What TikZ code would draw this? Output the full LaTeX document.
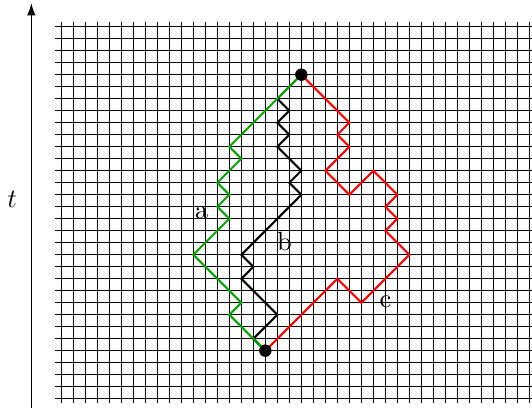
\documentclass[tikz,border=0pt]{standalone}
\usepackage{tikz}
\usetikzlibrary{arrows.meta}
\definecolor{pathgreen}{rgb}{0,0.65,0}

\begin{document}
\begin{tikzpicture}
 [x=0.16cm, y=0.16cm,
  grid line/.style={line width=0.4pt, black},
  walk line/.style={thick, line join=miter},
  end node/.style={circle, fill=black, inner sep=0pt, minimum size=4.6pt},
  label node/.style={inner sep=0pt, font=\normalsize}]

\useasboundingbox (-5.11,2.22) rectangle (39.22,-31.78);

% lattice
\foreach \j in {0,...,31}
  \draw[grid line] (-0.5,-\j) -- (39.5,-\j);
\foreach \i in {0,...,39}
  \draw[grid line] (\i,0.4) -- (\i,-31.4);

% time axis
\draw[-{Latex[length=4.6pt,width=3.2pt]}] (-2.5,-31.8) -- (-2.5,1.95);
\node[label node] (t) at (-4.1,-14.4) {$t$};

\node[end node] (1) at (20,-4) {};
\node[end node] (2) at (17,-27) {};

% the three walks
\draw[walk line, black] (1.center) -- ++(-2,-2) -- ++(1,-1) -- ++(-1,-1) -- ++(1,-1)
  -- ++(-1,-1) -- ++(2,-2) -- ++(-1,-1) -- ++(1,-1) -- ++(-5,-5) -- ++(1,-1)
  -- ++(-1,-1) -- ++(3,-3) -- ++(-2,-2) -- (2.center);
\draw[walk line, pathgreen] (1.center) -- ++(-6,-6) -- ++(1,-1) -- ++(-2,-2) -- ++(1,-1)
  -- ++(-1,-1) -- ++(1,-1) -- ++(-3,-3) -- ++(4,-4) -- ++(-1,-1) -- (2.center);
\draw[walk line, red] (1.center) -- ++(4,-4) -- ++(-1,-1) -- ++(1,-1) -- ++(-2,-2)
  -- ++(2,-2) -- ++(2,2) -- ++(2,-2) -- ++(-1,-1) -- ++(1,-1) -- ++(-1,-1)
  -- ++(2,-2) -- ++(-4,-4) -- ++(-2,2) -- (2.center);

\node[end node] at (1) {};
\node[end node] at (2) {};

\node[label node] (a) at (11.7,-15.5) {a};
\node[label node] (b) at (18.6,-17.9) {b};
\node[label node] (c) at (27.0,-22.9) {c};

\end{tikzpicture}
\end{document}
